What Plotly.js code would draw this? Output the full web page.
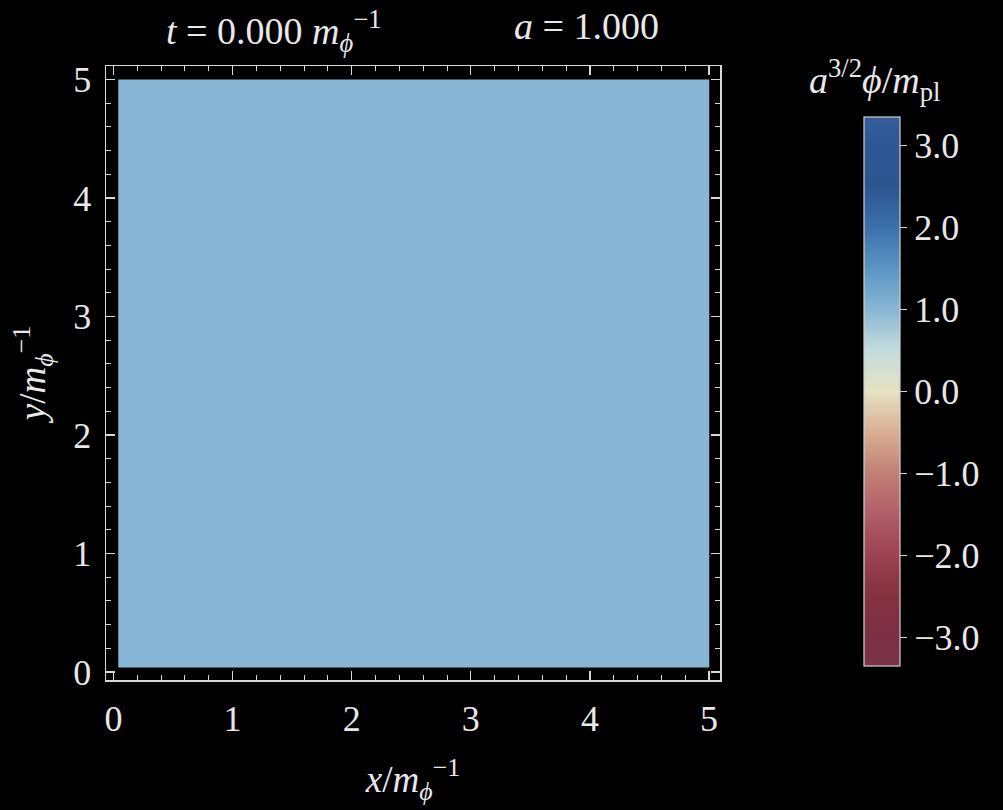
<!DOCTYPE html>
<html>
<head>
<meta charset="utf-8">
<script src="https://cdn.plot.ly/plotly-3.0.1.min.js"></script>
<style>
  html, body { margin: 0; padding: 0; background: #000; }
  #chart { width: 1003px; height: 810px; }
</style>
</head>
<body>
<div id="chart"></div>
<script>
// ---- data ----
const xEdges = [0.04, 5.0];          // cell edges in x (units of 1/m_phi)
const yEdges = [0.04, 5.0];          // cell edges in y
const fieldValues = [[1.0]];         // a^{3/2} phi / m_pl, uniform at t = 0
const timeLabel = "0.000";
const scaleFactorLabel = "1.000";
const axisTicks = [0, 1, 2, 3, 4, 5];
const colorbarTicks = [-3, -2, -1, 0, 1, 2, 3];
const colorRange = [-3.35, 3.35];

// ---- styling ----
const fg = "#e8e8e8";
const serif = "Liberation Serif, DejaVu Serif, serif";
const lo = colorRange[0], hi = colorRange[1];
const norm = v => (v - lo) / (hi - lo);
const colorscale = [
  [0, "#7a3349"],
  [norm(-3.0), "#7b2f44"],
  [norm(-2.5), "#84313f"],
  [norm(-2.0), "#9b4253"],
  [norm(-1.5), "#b05e67"],
  [norm(-1.0), "#c27f76"],
  [norm(-0.5), "#d9ae93"],
  [norm(0.0), "#e6e2c3"],
  [norm(0.5), "#c5dcdc"],
  [norm(1.0), "#88b6d4"],
  [norm(1.5), "#5b95c4"],
  [norm(2.0), "#3c70ab"],
  [norm(2.5), "#2c5690"],
  [norm(3.0), "#2d5893"],
  [1, "#345d99"]
];

const trace = {
  type: "heatmap",
  x: xEdges,
  y: yEdges,
  z: fieldValues,
  zmin: lo,
  zmax: hi,
  colorscale: colorscale,
  hoverinfo: "skip",
  colorbar: {
    x: 1.234, xanchor: "left",
    y: 0.4696, yanchor: "middle",
    len: 549, lenmode: "pixels",
    thickness: 36, thicknessmode: "pixels",
    xpad: 0, ypad: 0,
    outlinecolor: "#cfcfcf", outlinewidth: 1.2,
    tickvals: colorbarTicks,
    ticktext: colorbarTicks.map(v => (v < 0 ? "\u2212" : "") + Math.abs(v).toFixed(1)),
    ticks: "outside", ticklen: 7, tickcolor: "#cfcfcf", tickwidth: 1,
    tickfont: { family: serif, size: 36, color: fg },
    title: { text: "" }
  }
};

const axisCommon = {
  showgrid: false, zeroline: false,
  showline: true, linecolor: "#d8d8d8", linewidth: 1.5,
  mirror: "allticks",
  ticks: "inside", ticklen: 9, tickwidth: 1.2, tickcolor: "#d8d8d8",
  tickvals: axisTicks,
  tickfont: { family: serif, size: 36, color: fg },
  minor: { dtick: 0.2, tick0: 0, ticks: "inside", ticklen: 5, tickwidth: 1, tickcolor: "#d8d8d8" },
  fixedrange: true
};

const layout = {
  width: 1003, height: 810,
  paper_bgcolor: "#000", plot_bgcolor: "#000",
  margin: { l: 105.5, r: 283, t: 66, b: 130 },
  showlegend: false,
  xaxis: Object.assign({}, axisCommon, {
    range: [-0.063, 5.092],
    ticklabelstandoff: 6,
    title: { text: "<i>x</i>/<i>m</i><sub><i>ϕ</i></sub><sup>−1</sup>", font: { family: serif, size: 37, color: fg }, standoff: 28 }
  }),
  yaxis: Object.assign({}, axisCommon, {
    range: [-0.0675, 5.114],
    ticklabelstandoff: 6,
    title: { text: "<i>y</i>/<i>m</i><sub><i>ϕ</i></sub><sup>−1</sup>", font: { family: serif, size: 37, color: fg }, standoff: 16 }
  }),
  annotations: [
    {
      xref: "paper", yref: "paper", x: (274 - 105.5) / 614.5, y: 1, yshift: 35,
      xanchor: "center", yanchor: "middle", showarrow: false,
      text: "<i>t</i> = " + timeLabel + " <i>m</i><sub><i>ϕ</i></sub><sup>−1</sup>",
      font: { family: serif, size: 38, color: fg }
    },
    {
      xref: "paper", yref: "paper", x: (586 - 105.5) / 614.5, y: 1, yshift: 40,
      xanchor: "center", yanchor: "middle", showarrow: false,
      text: "<i>a</i> = " + scaleFactorLabel,
      font: { family: serif, size: 38, color: fg }
    },
    {
      xref: "paper", yref: "paper", x: (875 - 105.5) / 614.5, y: 1, yshift: -14,
      xanchor: "center", yanchor: "middle", showarrow: false,
      text: "<i>a</i><sup>3/2</sup><i>ϕ</i>/<i>m</i><sub>pl</sub>",
      font: { family: serif, size: 38, color: fg }
    }
  ]
};

Plotly.newPlot("chart", [trace], layout, { displayModeBar: false, staticPlot: true });
</script>
</body>
</html>
